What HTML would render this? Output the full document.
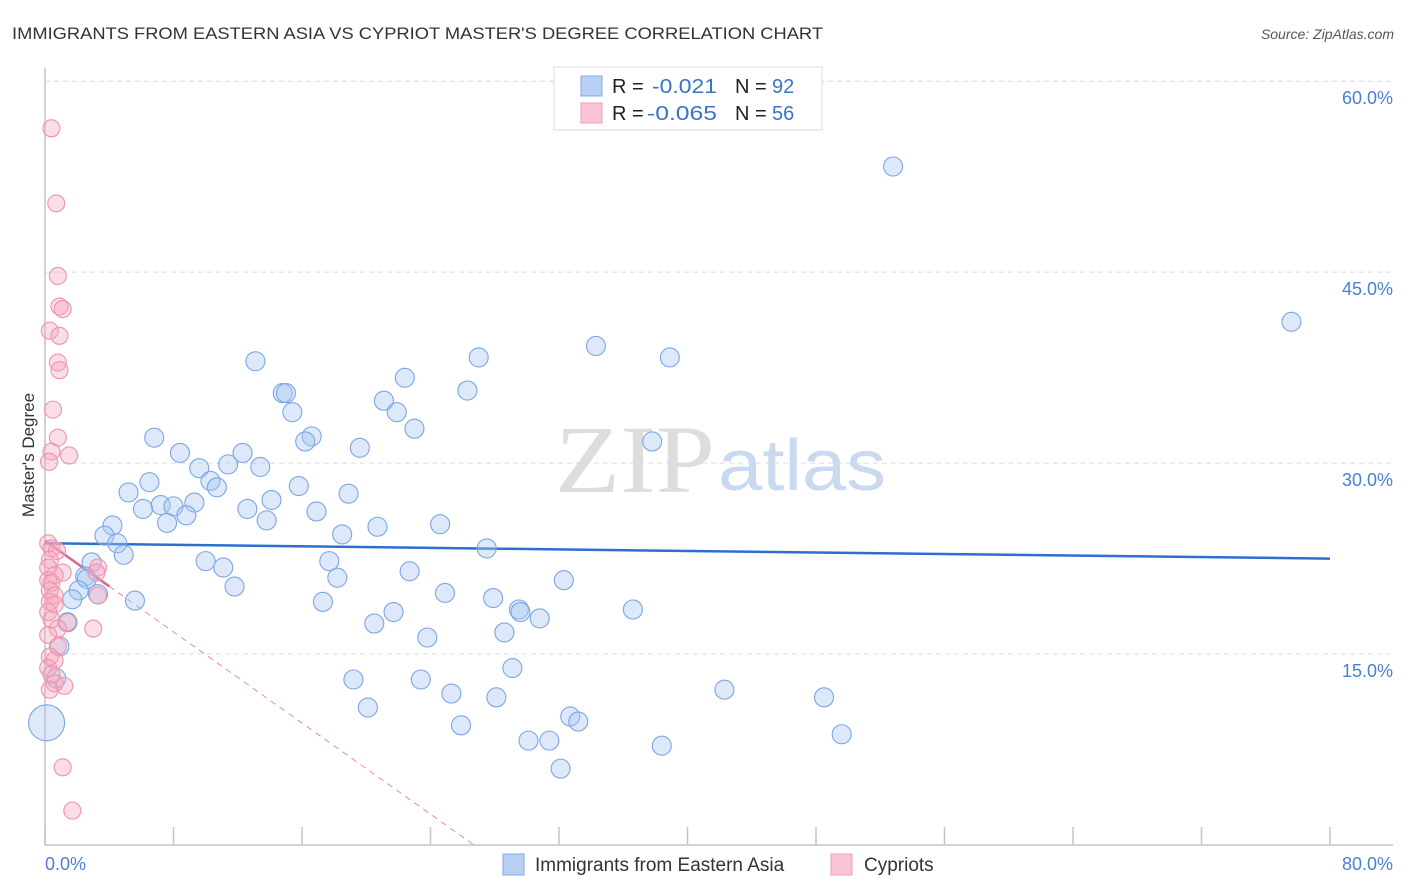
<!DOCTYPE html>
<html><head><meta charset="utf-8"><style>
body{margin:0;background:#fff;font-family:"Liberation Sans",sans-serif}
svg{display:block}
</style></head><body>
<svg id="chart" width="1406" height="892" viewBox="0 0 1406 892" xmlns="http://www.w3.org/2000/svg">
<text x="12" y="39" font-size="17" fill="#333" textLength="811" lengthAdjust="spacingAndGlyphs">IMMIGRANTS FROM EASTERN ASIA VS CYPRIOT MASTER'S DEGREE CORRELATION CHART</text>
<text x="1394" y="39" font-size="14" fill="#555" font-style="italic" text-anchor="end">Source: ZipAtlas.com</text>
<g>
<text x="555" y="492" font-family="Liberation Serif,serif" font-size="96" fill="#ddd" textLength="160" lengthAdjust="spacingAndGlyphs">ZIP</text>
<text x="718" y="490" font-size="72" fill="#c9daf0" textLength="168" lengthAdjust="spacingAndGlyphs">atlas</text>
</g>
<g id="grid"></g>
<g id="axes"></g>
<g id="trends"></g>
<g id="pts"></g>
<text transform="translate(34,455) rotate(-90)" font-size="17" fill="#333" text-anchor="middle">Master's Degree</text>
<g>
<rect x="554" y="67" width="268" height="63" fill="#fff" stroke="#ddd"/>
<rect x="581" y="76" width="21" height="20" fill="#b8d0f4" stroke="#7fa8e6"/>
<rect x="581" y="103" width="21" height="20" fill="#f9c4d3" stroke="#ef9fb6"/>
<text x="612" y="93" font-size="20" fill="#222">R = </text><text x="652" y="93" font-size="20" fill="#3b73c9" textLength="65" lengthAdjust="spacingAndGlyphs">-0.021</text>
<text x="735" y="93" font-size="20" fill="#222">N = </text><text x="772" y="93" font-size="20" fill="#3b73c9">92</text>
<text x="612" y="120" font-size="20" fill="#222">R = </text><text x="647" y="120" font-size="20" fill="#3b73c9" textLength="70" lengthAdjust="spacingAndGlyphs">-0.065</text>
<text x="735" y="120" font-size="20" fill="#222">N = </text><text x="772" y="120" font-size="20" fill="#3b73c9">56</text>
</g>
<g>
<rect x="503" y="854" width="21" height="21" fill="#b8d0f4" stroke="#7fa8e6"/>
<text x="535" y="871" font-size="19" fill="#333">Immigrants from Eastern Asia</text>
<rect x="831" y="854" width="21" height="21" fill="#f9c4d3" stroke="#ef9fb6"/>
<text x="864" y="871" font-size="19" fill="#333">Cypriots</text>
</g>
</svg>
<script>
const yTicks=[15,30,45,60];
const yTickLabels=["15.0%","30.0%","45.0%","60.0%"];
const xTickVals=[0,8,16,24,32,40,48,56,64,72,80];
const blueX=[52.8,77.6,34.3,38.9,27.0,13.1,22.4,26.3,14.8,15.0,21.1,21.9,15.4,23.0,16.6,16.2,37.8,6.8,19.6,8.4,12.3,9.6,11.4,13.4,6.5,10.3,10.7,15.8,5.2,18.9,14.1,9.3,7.2,8.0,6.1,12.6,16.9,8.8,7.6,13.8,20.7,24.6,4.2,18.5,3.7,4.5,27.5,4.9,2.9,10.0,17.7,11.1,22.7,2.5,2.6,18.2,32.3,11.8,2.1,24.9,3.3,1.7,5.6,27.9,17.3,29.5,29.6,36.6,21.7,30.8,20.5,1.4,23.8,28.6,0.9,29.1,0.7,19.2,23.4,42.3,25.3,28.1,48.5,20.1,32.7,33.2,25.9,0.1,49.6,30.1,31.4,38.4,32.1];
const blueY=[53.3,41.1,39.2,38.3,38.3,38.0,36.7,35.7,35.5,35.5,34.9,34.0,34.0,32.7,32.1,31.7,31.7,32.0,31.2,30.8,30.8,29.6,29.9,29.7,28.5,28.6,28.1,28.2,27.7,27.6,27.1,26.9,26.7,26.6,26.4,26.4,26.2,25.9,25.3,25.5,25.0,25.2,25.1,24.4,24.3,23.7,23.3,22.8,22.2,22.3,22.3,21.8,21.5,21.1,20.9,21.0,20.8,20.3,20.0,19.8,19.7,19.3,19.2,19.4,19.1,18.5,18.3,18.5,18.3,17.8,17.4,17.5,16.3,16.7,15.6,13.9,13.1,13.0,13.0,12.2,11.9,11.6,11.6,10.8,10.1,9.7,9.4,9.6,8.7,8.2,8.2,7.8,6.0];
const pinkX=[0.4,0.7,0.8,0.9,1.1,0.3,0.9,0.8,0.9,0.5,0.8,0.4,1.5,0.25,0.2,0.4,0.75,0.3,0.2,1.1,0.6,3.3,3.2,0.2,0.4,0.3,0.6,3.3,0.3,0.6,0.2,0.4,1.4,0.8,3.0,0.2,0.8,0.3,0.6,0.2,0.4,0.6,1.2,0.3,1.1,1.7];
const pinkY=[56.3,50.4,44.7,42.3,42.1,40.4,40.0,37.9,37.3,34.2,32.0,30.9,30.6,30.1,23.7,23.3,23.1,22.4,21.8,21.4,21.2,21.8,21.4,20.8,20.6,20.0,19.6,19.6,19.1,18.9,18.3,17.7,17.5,17.0,17.0,16.5,15.6,14.8,14.5,13.9,13.4,12.7,12.5,12.2,6.1,2.7];
const blueTrend=[23.7,22.5];
const pinkTrend=[23.9,-0.895];

const X0=45,X1=1330,Y0=845,YS=12.73;
const sx=v=>X0+v*(X1-X0)/80;
const sy=v=>Y0-v*YS;
const NS="http://www.w3.org/2000/svg";
function mk(tag,attrs,parent){const e=document.createElementNS(NS,tag);for(const k in attrs)e.setAttribute(k,attrs[k]);parent.appendChild(e);return e;}
const grid=document.getElementById('grid'),axes=document.getElementById('axes'),tr=document.getElementById('trends'),pts=document.getElementById('pts');
yTicks.forEach((t,i)=>{
 const l=mk('line',{x1:X0,x2:1393,y1:sy(t),y2:sy(t),stroke:'#dcdcdc','stroke-dasharray':'5,4'},grid);
 
 
 const tx=mk('text',{x:1393,y:sy(t)+23,'font-size':18,fill:'#4a7fd4','text-anchor':'end'},grid);
 tx.textContent=yTickLabels[i];
 
 
});
const ya=mk('line',{x1:X0,x2:X0,y1:68,y2:Y0,stroke:'#c4c4c4','stroke-width':1.5},axes);


const xa=mk('line',{x1:X0,x2:1393,y1:Y0,y2:Y0,stroke:'#c4c4c4','stroke-width':1.5},axes);


xTickVals.forEach(v=>{
 const t=mk('line',{x1:sx(v),x2:sx(v),y1:Y0,y2:Y0-18,stroke:'#c4c4c4','stroke-width':1.5},axes);
 
 
});
const xl0=mk('text',{x:45,y:870,'font-size':18,fill:'#4a7fd4'},axes);xl0.textContent='0.0%';


const xl1=mk('text',{x:1393,y:870,'font-size':18,fill:'#4a7fd4','text-anchor':'end'},axes);xl1.textContent='80.0%';


blueX.forEach((v,i)=>{
 const r=(v<0.5&&blueY[i]<11)?18:9.5;
 const c=mk('circle',{cx:sx(v),cy:sy(blueY[i]),r:r,fill:'rgba(165,196,240,0.38)',stroke:'#7aa6e4','stroke-width':1.1},pts);
 
 
});
pinkX.forEach((v,i)=>{
 const c=mk('circle',{cx:sx(v),cy:sy(pinkY[i]),r:8.5,fill:'rgba(245,165,190,0.38)',stroke:'#ee94ae','stroke-width':1.1},pts);
 
 
});
const bt=mk('line',{x1:sx(0),y1:sy(blueTrend[0]),x2:sx(80),y2:sy(blueTrend[1]),stroke:'#2c6fd1','stroke-width':2.5},tr);


const pe=-pinkTrend[0]/pinkTrend[1];
const pd=mk('line',{x1:sx(4),y1:sy(pinkTrend[0]+pinkTrend[1]*4),x2:sx(pe),y2:sy(0),stroke:'#e88aa5','stroke-width':1,'stroke-dasharray':'6,5'},tr);


const ps=mk('line',{x1:sx(0),y1:sy(pinkTrend[0]),x2:sx(4),y2:sy(pinkTrend[0]+pinkTrend[1]*4),stroke:'#e4648c','stroke-width':2.5},tr);


</script>
</body></html>
